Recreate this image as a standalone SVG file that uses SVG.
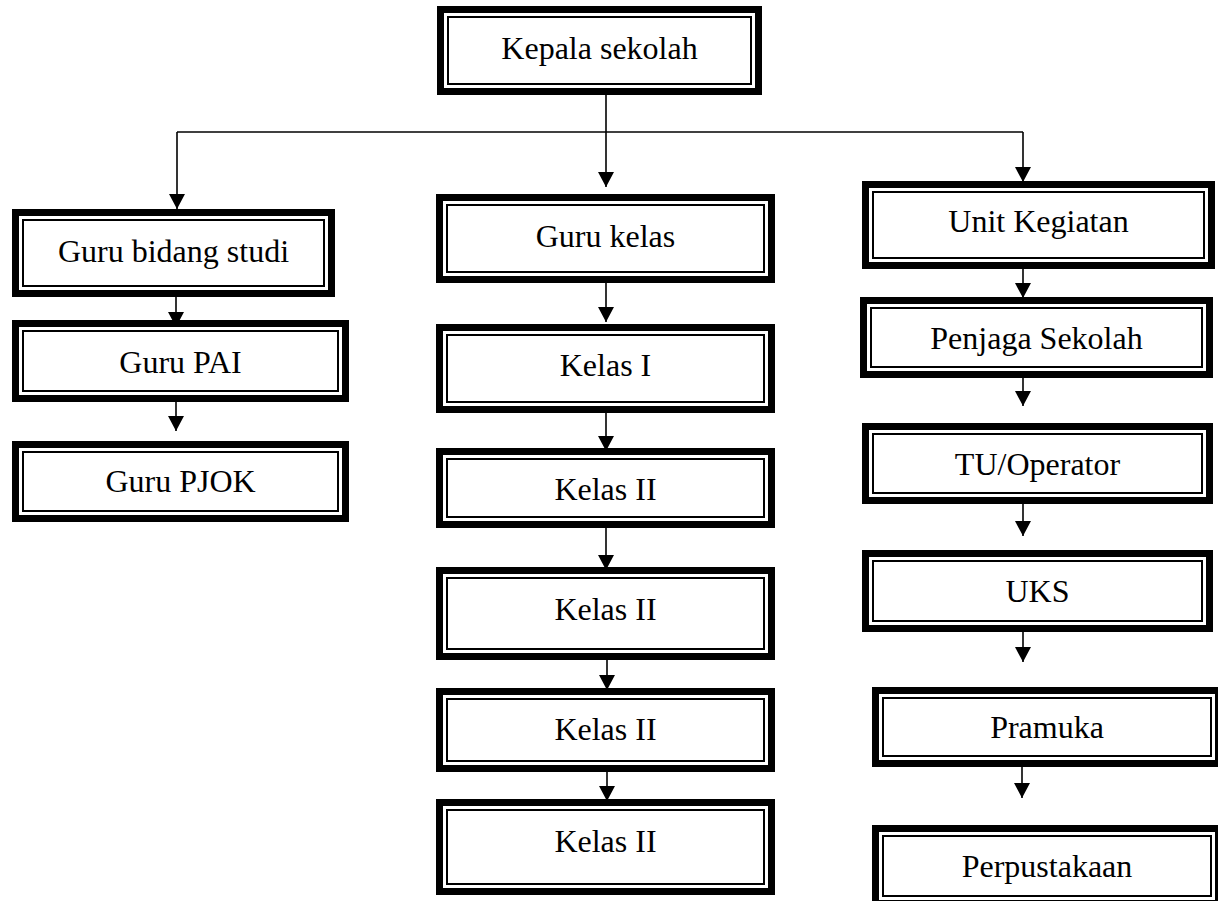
<svg xmlns="http://www.w3.org/2000/svg" width="1218" height="901" viewBox="0 0 1218 901">
<style>
.bg{fill:#fff}
.thick{fill:#fff;stroke:#000;stroke-width:7}
.thin{fill:none;stroke:#000;stroke-width:2}
.lbl{font-family:"Liberation Serif","Times New Roman",serif;font-size:32px;fill:#000;text-anchor:middle}
.con{fill:none;stroke:#000;stroke-width:1.6}
</style>
<defs>
<marker id="ah" viewBox="0 0 15 16" refX="15" refY="8" markerWidth="15" markerHeight="16" markerUnits="userSpaceOnUse" orient="auto">
<path d="M0,0 L15,8 L0,16 z" fill="#000"/>
</marker>
</defs>
<rect class="bg" x="0" y="0" width="1218" height="901"/>

<g id="kepala">
<rect class="thick" x="440.5" y="9.5" width="318" height="82"/>
<rect class="thin" x="448" y="17" width="303" height="67"/>
<text class="lbl" x="599.5" y="59">Kepala sekolah</text>
</g>

<g id="guru-bidang-studi">
<rect class="thick" x="15.5" y="212.5" width="316" height="81"/>
<rect class="thin" x="23" y="220" width="301" height="66"/>
<text class="lbl" x="173.5" y="262">Guru bidang studi</text>
</g>
<g id="guru-pai">
<rect class="thick" x="15.5" y="323.5" width="330" height="75"/>
<rect class="thin" x="23" y="331" width="315" height="60"/>
<text class="lbl" x="180.5" y="373">Guru PAI</text>
</g>
<g id="guru-pjok">
<rect class="thick" x="15.5" y="444.5" width="330" height="74"/>
<rect class="thin" x="23" y="452" width="315" height="59"/>
<text class="lbl" x="180.5" y="492">Guru PJOK</text>
</g>

<g id="guru-kelas">
<rect class="thick" x="439.5" y="197.5" width="332" height="82"/>
<rect class="thin" x="447" y="205" width="317" height="67"/>
<text class="lbl" x="605.5" y="247">Guru kelas</text>
</g>
<g id="kelas-1">
<rect class="thick" x="439.5" y="327.5" width="332" height="82"/>
<rect class="thin" x="447" y="335" width="317" height="67"/>
<text class="lbl" x="605.5" y="376">Kelas I</text>
</g>
<g id="kelas-2a">
<rect class="thick" x="439.5" y="451.5" width="332" height="73"/>
<rect class="thin" x="447" y="459" width="317" height="58"/>
<text class="lbl" x="605.5" y="500">Kelas II</text>
</g>
<g id="kelas-2b">
<rect class="thick" x="439.5" y="570.5" width="332" height="86"/>
<rect class="thin" x="447" y="578" width="317" height="71"/>
<text class="lbl" x="605.5" y="620">Kelas II</text>
</g>
<g id="kelas-2c">
<rect class="thick" x="439.5" y="691.5" width="332" height="77"/>
<rect class="thin" x="447" y="699" width="317" height="62"/>
<text class="lbl" x="605.5" y="740">Kelas II</text>
</g>
<g id="kelas-2d">
<rect class="thick" x="439.5" y="802.5" width="332" height="89"/>
<rect class="thin" x="447" y="810" width="317" height="74"/>
<text class="lbl" x="605.5" y="852">Kelas II</text>
</g>

<g id="unit-kegiatan">
<rect class="thick" x="865.5" y="184.5" width="346" height="81"/>
<rect class="thin" x="873" y="192" width="331" height="66"/>
<text class="lbl" x="1038.5" y="232">Unit Kegiatan</text>
</g>
<g id="penjaga-sekolah">
<rect class="thick" x="863.5" y="300.5" width="346" height="74"/>
<rect class="thin" x="871" y="308" width="331" height="59"/>
<text class="lbl" x="1036.5" y="349">Penjaga Sekolah</text>
</g>
<g id="tu-operator">
<rect class="thick" x="865.5" y="426.5" width="344" height="74"/>
<rect class="thin" x="873" y="434" width="329" height="59"/>
<text class="lbl" x="1037.5" y="475">TU/Operator</text>
</g>
<g id="uks">
<rect class="thick" x="865.5" y="553.5" width="344" height="75"/>
<rect class="thin" x="873" y="561" width="329" height="60"/>
<text class="lbl" x="1037.5" y="602">UKS</text>
</g>
<g id="pramuka">
<rect class="thick" x="875.5" y="690.5" width="343" height="73"/>
<rect class="thin" x="883" y="698" width="328" height="58"/>
<text class="lbl" x="1047" y="738">Pramuka</text>
</g>
<g id="perpustakaan">
<rect class="thick" x="875.5" y="828.5" width="343" height="75"/>
<rect class="thin" x="883" y="836" width="328" height="60"/>
<text class="lbl" x="1047" y="877">Perpustakaan</text>
</g>

<g id="connectors">
<path class="con" d="M177,132 H1023"/>
<path class="con" d="M606,95 V187" marker-end="url(#ah)"/>
<path class="con" d="M177,132 V209" marker-end="url(#ah)"/>
<path class="con" d="M1023,132 V182" marker-end="url(#ah)"/>
<path class="con" d="M176,297 V327" marker-end="url(#ah)"/>
<path class="con" d="M176,402 V431" marker-end="url(#ah)"/>
<path class="con" d="M606,283 V322" marker-end="url(#ah)"/>
<path class="con" d="M606,413 V451" marker-end="url(#ah)"/>
<path class="con" d="M606,528 V570" marker-end="url(#ah)"/>
<path class="con" d="M607,660 V690" marker-end="url(#ah)"/>
<path class="con" d="M607,772 V801" marker-end="url(#ah)"/>
<path class="con" d="M1023,269 V298" marker-end="url(#ah)"/>
<path class="con" d="M1023,378 V406" marker-end="url(#ah)"/>
<path class="con" d="M1023,504 V536" marker-end="url(#ah)"/>
<path class="con" d="M1023,632 V662" marker-end="url(#ah)"/>
<path class="con" d="M1022,767 V798" marker-end="url(#ah)"/>
</g>
</svg>
